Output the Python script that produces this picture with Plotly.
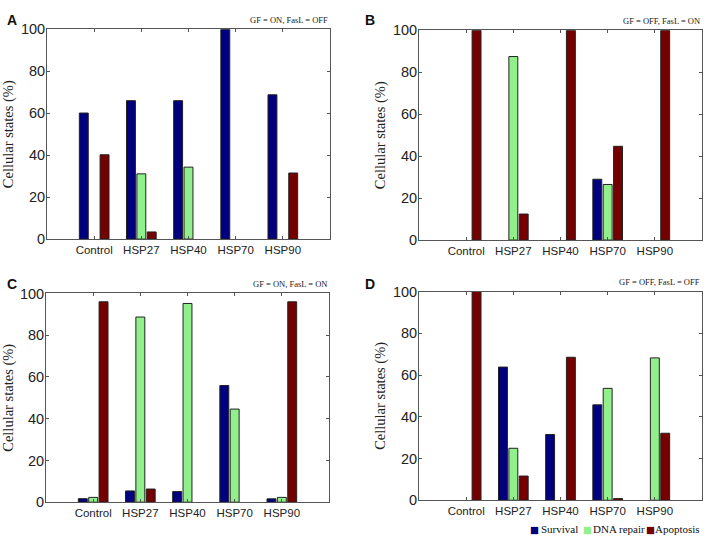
import plotly.graph_objects as go

categories = ["Control", "HSP27", "HSP40", "HSP70", "HSP90"]
positions = [1, 2, 3, 4, 5]
series_names = ["Survival", "DNA repair", "Apoptosis"]
colors = ["#00007f", "#92f08c", "#740000"]

# panel A: GF = ON, FasL = OFF
a_survival = [60.1, 66.0, 66.0, 100.0, 68.8]
a_repair = [0, 31.1, 34.3, 0, 0]
a_apoptosis = [40.2, 3.4, 0, 0, 31.5]
# panel B: GF = OFF, FasL = ON
b_survival = [0, 0, 0, 29.0, 0]
b_repair = [0, 87.5, 0, 26.5, 0]
b_apoptosis = [100.0, 12.4, 100.0, 44.7, 100.0]
# panel C: GF = ON, FasL = ON
c_survival = [1.7, 5.4, 5.1, 55.9, 1.6]
c_repair = [2.3, 88.7, 95.2, 44.6, 2.3]
c_apoptosis = [96.0, 6.3, 0, 0, 96.0]
# panel D: GF = OFF, FasL = OFF
d_survival = [0, 63.8, 31.5, 45.7, 0]
d_repair = [0, 24.9, 0, 53.6, 68.2]
d_apoptosis = [100.0, 11.6, 68.5, 0.8, 32.1]

panels = [
    ("A", "GF = ON, FasL = OFF", [a_survival, a_repair, a_apoptosis]),
    ("B", "GF = OFF, FasL = ON", [b_survival, b_repair, b_apoptosis]),
    ("C", "GF = ON, FasL = ON", [c_survival, c_repair, c_apoptosis]),
    ("D", "GF = OFF, FasL = OFF", [d_survival, d_repair, d_apoptosis]),
]

W, H = 708, 550


def px(x):
    return min(max(x / W, 0), 1)


def py(y):
    return min(max(1 - y / H, 0), 1)


# pixel boxes (left, right, top, bottom)
boxes = [(47, 330, 22, 238), (419, 702, 23, 239), (46, 329, 294, 509), (419, 702, 292, 507)]
letter_pos = [(5, 12), (363, 12), (5, 284), (363, 284)]

fig = go.Figure()
layout = {}
annotations = []
for i, (letter, cond, series) in enumerate(panels):
    n = "" if i == 0 else str(i + 1)
    xa, ya = "x" + n, "y" + n
    for s, name in enumerate(series_names):
        vals = series[s]
        fig.add_trace(go.Bar(
            x=positions, y=vals, name=name, xaxis=xa, yaxis=ya,
            marker=dict(color=colors[s],
                        line=dict(color="#222222", width=[1 if v > 0 else 0 for v in vals])),
            showlegend=False, offsetgroup=str(s),
        ))
    l, r, t, b = boxes[i]
    layout["xaxis" + n] = dict(
        domain=[px(l), px(r)], range=[0, 6], anchor=ya,
        tickmode="array", tickvals=positions, ticktext=categories,
        ticks="inside", ticklen=3, tickcolor="#555", showline=True, linecolor="#555",
        mirror="ticks", showgrid=False, zeroline=False,
        tickfont=dict(family="Liberation Sans", size=11.5, color="#222"),
    )
    layout["yaxis" + n] = dict(
        domain=[py(b), py(t)], range=[0, 100], anchor=xa,
        tickvals=[0, 20, 40, 60, 80, 100],
        ticks="inside", ticklen=3, tickcolor="#555", showline=True, linecolor="#555",
        mirror="ticks", showgrid=False, zeroline=False,
        ticklabelstandoff=-2,
        tickfont=dict(family="Liberation Sans", size=14.5, color="#222"),
        title=dict(text="Cellular states (%)", standoff=3,
                   font=dict(family="Liberation Serif", size=14.5, color="#222")),
    )
    annotations.append(dict(
        text=cond, xref="paper", yref="paper", x=px(r), y=py(t - 10),
        xanchor="right", yanchor="middle", showarrow=False,
        font=dict(family="Liberation Serif", size=8.5, color="#222"),
    ))
    lx, ly = letter_pos[i]
    annotations.append(dict(
        text="<b>" + letter + "</b>", xref="paper", yref="paper",
        x=px(lx), y=py(ly), xanchor="left", yanchor="middle", showarrow=False,
        font=dict(family="Liberation Sans", size=14, color="#111"),
    ))

# legend (bottom right)
legend_sq = [528, 581, 644]
legend_tx = [539, 591, 653]
for s, name in enumerate(series_names):
    annotations.append(dict(
        text="■", xref="paper", yref="paper", x=px(legend_sq[s]), y=py(537),
        xanchor="left", yanchor="middle", showarrow=False,
        font=dict(family="DejaVu Sans", size=9.5, color=colors[s]),
    ))
    annotations.append(dict(
        text=name, xref="paper", yref="paper", x=px(legend_tx[s]), y=py(537),
        xanchor="left", yanchor="middle", showarrow=False,
        font=dict(family="Liberation Serif", size=11, color="#111"),
    ))

fig.update_layout(
    **layout,
    annotations=annotations,
    width=W, height=H,
    margin=dict(l=0, r=0, t=0, b=0),
    paper_bgcolor="white", plot_bgcolor="white",
    barmode="group", bargap=0.34, bargroupgap=0.14,
    showlegend=False,
)

fig.write_html("out.html", config={"displayModeBar": False},
               post_script="document.body.style.margin='0';")
